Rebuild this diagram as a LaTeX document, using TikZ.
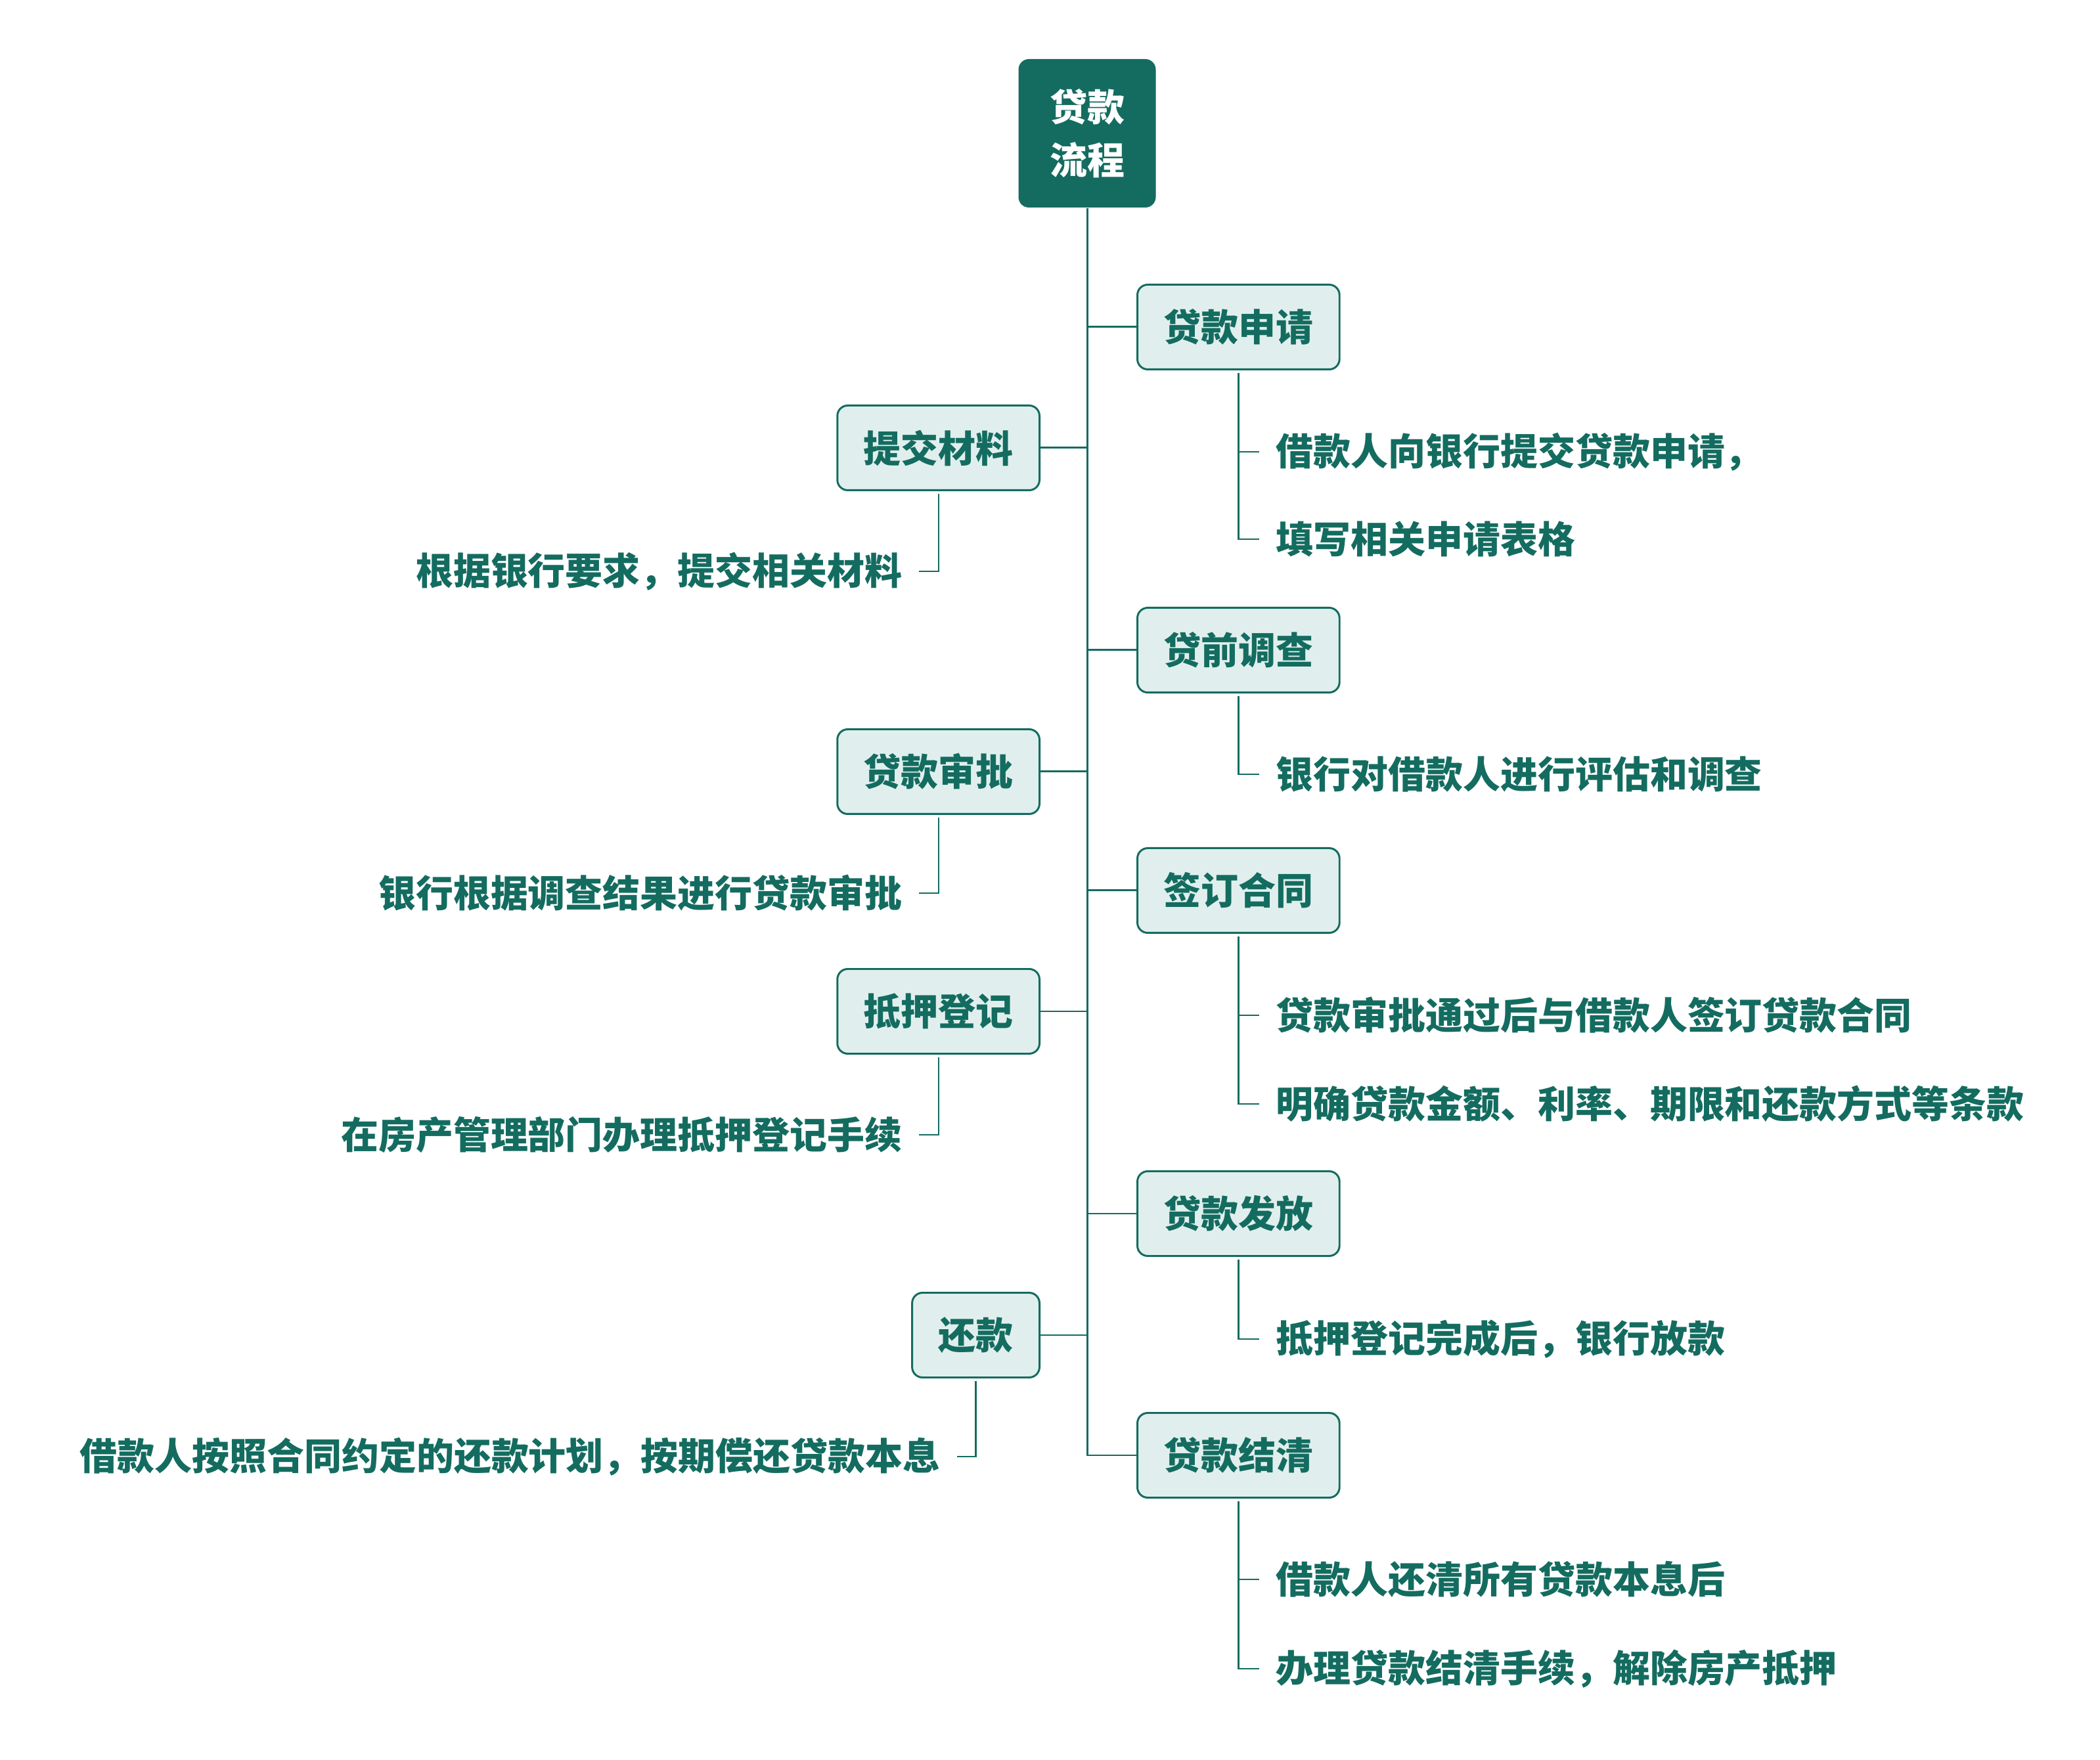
\documentclass[tikz,border=0pt]{standalone}
\usepackage{fontspec}
\setmainfont{Noto Sans CJK SC}
\usetikzlibrary{positioning, calc}

\begin{document}
\begin{tikzpicture}[
    stagebox/.style={rectangle, rounded corners=4.5pt, draw=flowdark, fill=flowlight,
        line width=0.85pt, inner xsep=0.4cm, minimum height=1.29cm,
        font=\fontsize{16.2pt}{19pt}\selectfont\bfseries, text=flowdark},
    detail/.style={font=\fontsize{16.2pt}{19pt}\selectfont\bfseries, text=flowdark,
        inner xsep=0.25cm, inner ysep=0pt},
    trunk/.style={draw=flowdark, line width=0.85pt},
    twig/.style={draw=flowdark, line width=0.65pt},
]

% ── Colors ──
\definecolor{flowdark}{HTML}{146C60}
\definecolor{flowlight}{HTML}{E0EFED}

\useasboundingbox (0,0) rectangle (31.97,-26.80);

% ══════════════════════════════════════════════
% Root
% ══════════════════════════════════════════════
\node[rectangle, rounded corners=4.5pt, fill=flowdark, text=white,
    minimum width=2.09cm, minimum height=2.26cm, align=center,
    font=\fontsize{16.2pt}{23.2pt}\selectfont\bfseries]
    (root) at (16.55,-2.03) {贷款\\流程};

% ══════════════════════════════════════════════
% Stages on the right
% ══════════════════════════════════════════════
\node[stagebox, anchor=west] (apply) at (17.30,-4.98) {贷款申请};
\node[stagebox, anchor=west] (survey) at (17.30,-9.90) {贷前调查};
\node[stagebox, anchor=west] (contract) at (17.30,-13.56) {签订合同};
\node[stagebox, anchor=west] (release) at (17.30,-18.48) {贷款发放};
\node[stagebox, anchor=west] (settle) at (17.30,-22.16) {贷款结清};

% ══════════════════════════════════════════════
% Stages on the left
% ══════════════════════════════════════════════
\node[stagebox, anchor=east] (submit) at (15.84,-6.82) {提交材料};
\node[stagebox, anchor=east] (approve) at (15.84,-11.75) {贷款审批};
\node[stagebox, anchor=east] (mortgage) at (15.84,-15.40) {抵押登记};
\node[stagebox, anchor=east] (repay) at (15.84,-20.33) {还款};

% ══════════════════════════════════════════════
% Details, right side
% ══════════════════════════════════════════════
\node[detail, anchor=west] (apply1) at (19.17,-6.88) {借款人向银行提交贷款申请，};
\node[detail, anchor=west] (apply2) at (19.17,-8.21) {填写相关申请表格};
\node[detail, anchor=west] (survey1) at (19.17,-11.79) {银行对借款人进行评估和调查};
\node[detail, anchor=west] (contract1) at (19.17,-15.46) {贷款审批通过后与借款人签订贷款合同};
\node[detail, anchor=west] (contract2) at (19.17,-16.81) {明确贷款金额、利率、期限和还款方式等条款};
\node[detail, anchor=west] (release1) at (19.17,-20.39) {抵押登记完成后，银行放款};
\node[detail, anchor=west] (settle1) at (19.17,-24.05) {借款人还清所有贷款本息后};
\node[detail, anchor=west] (settle2) at (19.17,-25.41) {办理贷款结清手续，解除房产抵押};

% ══════════════════════════════════════════════
% Details, left side
% ══════════════════════════════════════════════
\node[detail, anchor=east] (submit1) at (13.99,-8.70) {根据银行要求，提交相关材料};
\node[detail, anchor=east] (approve1) at (13.99,-13.60) {银行根据调查结果进行贷款审批};
\node[detail, anchor=east] (mortgage1) at (13.99,-17.28) {在房产管理部门办理抵押登记手续};
\node[detail, anchor=east] (repay1) at (14.57,-22.18) {借款人按照合同约定的还款计划，按期偿还贷款本息};

% ══════════════════════════════════════════════
% Trunk and branches
% ══════════════════════════════════════════════
\draw[trunk] (root.south) |- (settle.west);
\draw[trunk] (apply.west) -- (apply.west -| root.south);
\draw[trunk] (survey.west) -- (survey.west -| root.south);
\draw[trunk] (contract.west) -- (contract.west -| root.south);
\draw[trunk] (release.west) -- (release.west -| root.south);
\draw[trunk] (submit.east) -- (submit.east -| root.south);
\draw[trunk] (approve.east) -- (approve.east -| root.south);
\draw[trunk] (mortgage.east) -- (mortgage.east -| root.south);
\draw[trunk] (repay.east) -- (repay.east -| root.south);

% ══════════════════════════════════════════════
% Twigs to the details
% ══════════════════════════════════════════════
\draw[twig] ([yshift=-0.04cm]apply.south) |- (apply1.west);
\draw[twig] ([yshift=-0.04cm]apply.south) |- (apply2.west);
\draw[twig] ([yshift=-0.04cm]survey.south) |- (survey1.west);
\draw[twig] ([yshift=-0.04cm]contract.south) |- (contract1.west);
\draw[twig] ([yshift=-0.04cm]contract.south) |- (contract2.west);
\draw[twig] ([yshift=-0.04cm]release.south) |- (release1.west);
\draw[twig] ([yshift=-0.04cm]settle.south) |- (settle1.west);
\draw[twig] ([yshift=-0.04cm]settle.south) |- (settle2.west);

\draw[twig] ([yshift=-0.04cm]submit.south) |- (submit1.east);
\draw[twig] ([yshift=-0.04cm]approve.south) |- (approve1.east);
\draw[twig] ([yshift=-0.04cm]mortgage.south) |- (mortgage1.east);
\draw[twig] ([yshift=-0.04cm]repay.south) |- (repay1.east);

\end{tikzpicture}
\end{document}
